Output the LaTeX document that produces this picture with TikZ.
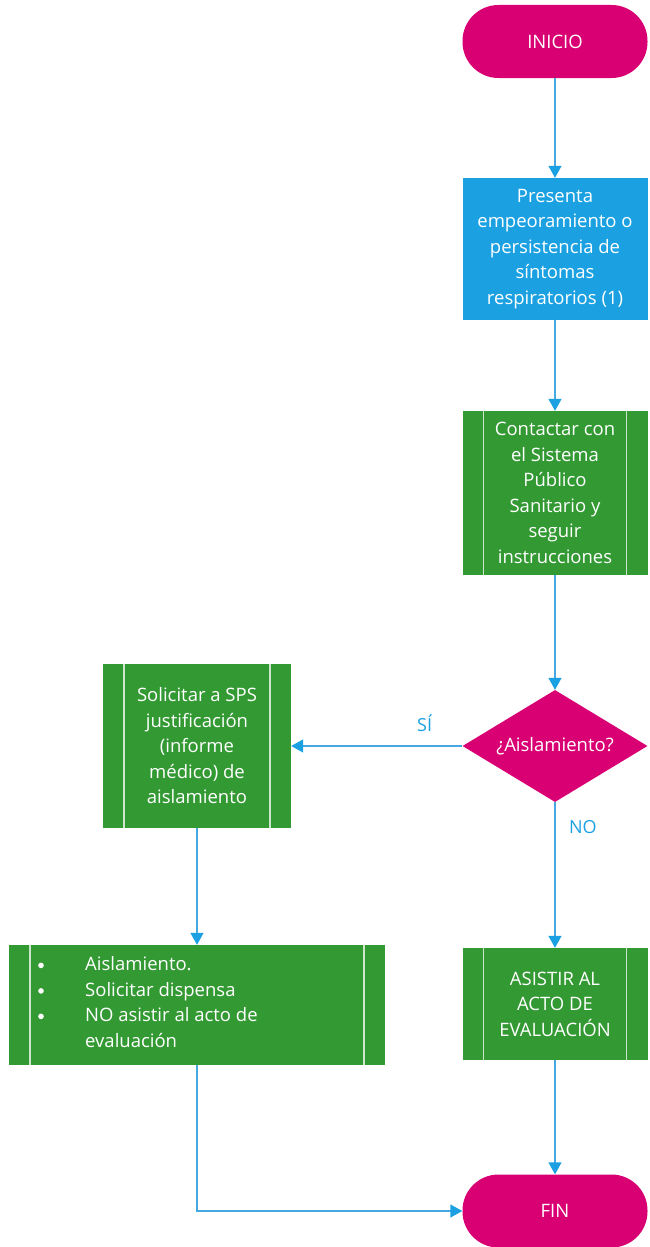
\documentclass[tikz,border=0pt]{standalone}
\usepackage{fontspec}
\setmainfont{Open Sans}
\usetikzlibrary{positioning, arrows.meta, shapes.geometric}

\definecolor{termpink}{HTML}{D80073}
\definecolor{stepblue}{HTML}{1BA1E2}
\definecolor{procgreen}{HTML}{339933}
\definecolor{linkblue}{HTML}{45A8E0}

\newcommand{\listdot}{\hspace*{2pt}\tikz[baseline=-0.55ex]\fill (0,0) circle [radius=2.8pt];}

\begin{document}
\begin{tikzpicture}[>={Triangle[length=11pt,width=13pt]}, x=1pt, y=-1pt]

  % Define flowchart styles
  \tikzset{
    base box/.style={
      text=white, font=\fontsize{18.5}{25.5}\selectfont, align=center,
      inner sep=0pt, anchor=center,
    },
    terminal/.style={
      base box, rectangle, fill=termpink, rounded corners=36pt,
      minimum width=185pt, minimum height=73pt,
    },
    stepbox/.style={
      base box, rectangle, fill=stepblue,
      minimum width=185pt, minimum height=142pt,
    },
    subproc/.style={
      base box, rectangle, fill=procgreen, minimum width=185pt,
      path picture={
        \draw[white!75!procgreen, line width=1.2pt]
          ([xshift=21pt]path picture bounding box.north west) --
          ([xshift=21pt]path picture bounding box.south west)
          ([xshift=-21pt]path picture bounding box.north east) --
          ([xshift=-21pt]path picture bounding box.south east);
      },
    },
    decision/.style={
      base box, diamond, fill=termpink, aspect=1.65,
      minimum width=185pt, minimum height=112pt,
    },
    link/.style={draw=linkblue, line width=1.4pt, ->, >={Triangle[length=12pt,width=13pt,color=stepblue]}},
    branch label/.style={text=stepblue, font=\fontsize{18}{20}\selectfont},
  }

  \useasboundingbox (0,0) rectangle (649,1247);

  % Right column
  \node[terminal] (inicio) at (555,41.5) {INICIO};
  \node[stepbox] (sintomas) at (555,249)
    {Presenta\\empeoramiento o\\persistencia de\\síntomas\\respiratorios (1)};
  \node[subproc, minimum height=164pt] (contactar) at (555,493)
    {Contactar con\\el Sistema\\Público\\Sanitario y\\seguir\\instrucciones};
  \node[decision] (aislam) at (555,746) {¿Aislamiento?};
  \node[subproc, minimum height=112pt] (asistir) at (555,1004)
    {ASISTIR AL\\ACTO DE\\EVALUACIÓN};
  \node[terminal] (fin) at (555,1211) {FIN};

  % Left column
  \node[subproc, minimum width=188pt, minimum height=164pt] (solicitar) at (197,746)
    {Solicitar a SPS\\justificación\\(informe\\médico) de\\aislamiento};
  \node[subproc, minimum width=376pt, minimum height=120pt] (aislar) at (197,1005) {};
  \node[base box, anchor=west, align=left] (lista) at (36,1004) {%
    \begin{tabular}{@{}p{49pt}@{}l@{}}
      \listdot & Aislamiento.\\
      \listdot & Solicitar dispensa\\
      \listdot & NO asistir al acto de\\
        & evaluación
    \end{tabular}};

  % Connectors
  \draw[link] (inicio) -- (sintomas);
  \draw[link] (sintomas) -- (contactar);
  \draw[link] (contactar) -- (aislam);
  \draw[link] (aislam) -- node[branch label, above=10pt, pos=0.22] (si) {SÍ} (solicitar);
  \draw[link] (aislam) -- node[branch label, right=10pt, pos=0.17] (no) {NO} (asistir);
  \draw[link] (solicitar) -- (aislar);
  \draw[link] (asistir) -- (fin);
  \draw[link] (aislar.south) |- (fin.west);

\end{tikzpicture}
\end{document}
